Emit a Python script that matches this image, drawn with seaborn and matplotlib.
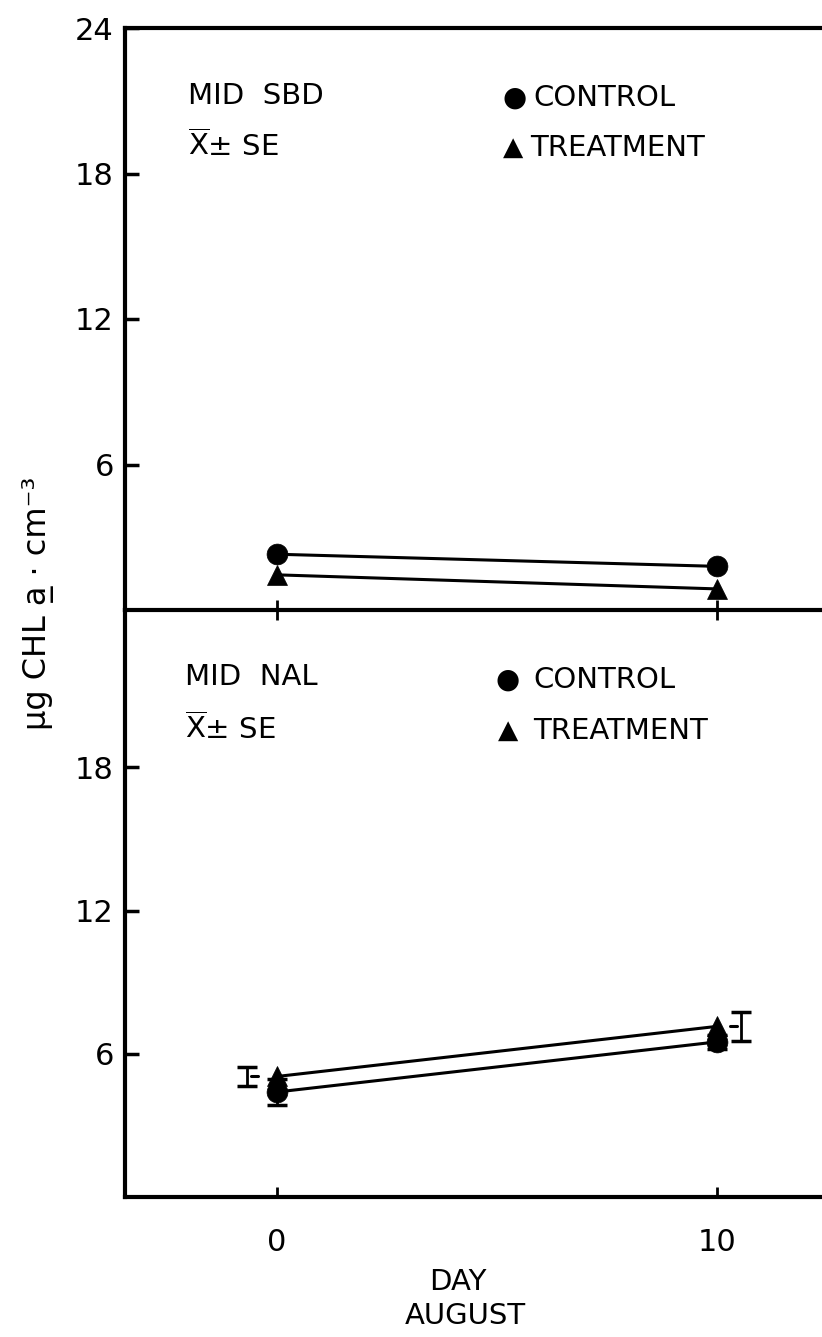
import matplotlib
matplotlib.use('Agg')
import matplotlib.pyplot as plt
import seaborn as sns
import pandas as pd

# ---------------- data ----------------
days = [0, 10]
groups = ['CONTROL', 'TREATMENT']
sbd_control = [2.3, 1.8]
sbd_treatment = [1.45, 0.87]
nal_control = [4.4, 6.5]
nal_treatment = [5.05, 7.15]
nal_control_se = [0.55, 0.3]
nal_treatment_se = [0.4, 0.6]
yticks_top = [6, 12, 18, 24]
yticks_bottom = [6, 12, 18]
xticks = [0, 10]
xtick_labels = ['0', '10']

rows = []
for panel, ctl, trt in [('SBD', sbd_control, sbd_treatment), ('NAL', nal_control, nal_treatment)]:
    for d, c, t in zip(days, ctl, trt):
        rows.append({'panel': panel, 'group': 'CONTROL', 'day': d, 'value': c})
        rows.append({'panel': panel, 'group': 'TREATMENT', 'day': d, 'value': t})
df = pd.DataFrame(rows)

sns.set_theme(style='ticks')
plt.rcParams['font.family'] = ['DejaVu Sans']
plt.rcParams['text.color'] = 'black'
plt.rcParams['axes.labelcolor'] = 'black'

W, H = 822, 1337
fig = plt.figure(figsize=(W / 100, H / 100), dpi=100)

def fx(px):
    return px / W

def fy(py):
    return 1 - py / H

left_px, mid_px, top_px, bot_px = 125, 610, 28, 1197
ax_bot = fig.add_axes([fx(left_px), fy(bot_px), 1 - fx(left_px), (bot_px - mid_px) / H])
ax_top = fig.add_axes([fx(left_px), fy(mid_px), 1 - fx(left_px), (mid_px - top_px) / H])

XLIM = (-3.45, 12.39)
markers = {'CONTROL': 'o', 'TREATMENT': '^'}

# error bars (bottom panel)
ax_bot.errorbar(days, nal_control, yerr=nal_control_se, fmt='none', ecolor='black',
                elinewidth=2, capsize=7, capthick=2.5, zorder=1)
err_offset = [-0.68, 0.55]
bar_x = [d + o for d, o in zip(days, err_offset)]
ax_bot.errorbar(bar_x, nal_treatment, yerr=nal_treatment_se, fmt='none', ecolor='black',
                elinewidth=2, capsize=7, capthick=2.5, zorder=1)
for bx, o, v in zip(bar_x, err_offset, nal_treatment):
    s = -1 if o < 0 else 1
    ax_bot.plot([bx - s * 0.1, bx - s * 0.26], [v, v], color='black', lw=2.2)

for ax, panel in [(ax_top, 'SBD'), (ax_bot, 'NAL')]:
    sns.lineplot(data=df[df.panel == panel], x='day', y='value', style='group',
                 markers=markers, dashes=False, color='black', markersize=15,
                 markeredgecolor='black', markeredgewidth=0.5, linewidth=2.2,
                 legend=False, ax=ax, zorder=3)
    ax.set_xlim(*XLIM)
    ax.set_xlabel('')
    ax.set_ylabel('')
    ax.patch.set_alpha(0)
    ax.spines['right'].set_visible(False)
    for sp in ['left', 'bottom', 'top']:
        ax.spines[sp].set_linewidth(3)
        ax.spines[sp].set_color('black')
    ax.set_xticks(xticks)
    ax.tick_params(axis='y', direction='in', length=10, width=2.5, pad=8,
                   labelsize=22, colors='black')

ax_top.set_ylim(0, 24)
ax_top.set_yticks(yticks_top)
ax_top.set_xticklabels([])
ax_top.tick_params(axis='x', direction='inout', length=14, width=2, colors='black')

ax_bot.set_ylim(0, 24.6)
ax_bot.set_yticks(yticks_bottom)
ax_bot.spines['top'].set_visible(False)
ax_bot.set_xticklabels(xtick_labels)
ax_bot.tick_params(axis='x', direction='in', length=7, width=2, pad=22,
                   labelsize=22, colors='black')

# ---------------- annotations ----------------
fs = 21
fig.text(fx(188), fy(96), 'MID  SBD', fontsize=fs, va='center', ha='left')
fig.text(fx(188), fy(146), r'$\overline{\mathrm{X}}$± SE', fontsize=fs, va='center', ha='left')
fig.text(fx(515), fy(98), '●', fontsize=20, va='center', ha='center')
fig.text(fx(533), fy(98), 'CONTROL', fontsize=fs, va='center', ha='left')
fig.text(fx(513), fy(148), '▲', fontsize=19, va='center', ha='center')
fig.text(fx(530), fy(148), 'TREATMENT', fontsize=fs, va='center', ha='left')

fig.text(fx(185), fy(677), 'MID  NAL', fontsize=fs, va='center', ha='left')
fig.text(fx(185), fy(729), r'$\overline{\mathrm{X}}$± SE', fontsize=fs, va='center', ha='left')
fig.text(fx(508), fy(680), '●', fontsize=20, va='center', ha='center')
fig.text(fx(533), fy(680), 'CONTROL', fontsize=fs, va='center', ha='left')
fig.text(fx(508), fy(731), '▲', fontsize=19, va='center', ha='center')
fig.text(fx(533), fy(731), 'TREATMENT', fontsize=fs, va='center', ha='left')

fig.text(fx(38), fy(603), 'μg CHL a\u0332 · cm⁻³', fontsize=23, rotation=90,
         va='center', ha='center')
fig.text(fx(458), fy(1282), 'DAY', fontsize=fs, va='center', ha='center')
fig.text(fx(465), fy(1316), 'AUGUST', fontsize=fs, va='center', ha='center')

fig.savefig('out.png', dpi=100, facecolor='white')
